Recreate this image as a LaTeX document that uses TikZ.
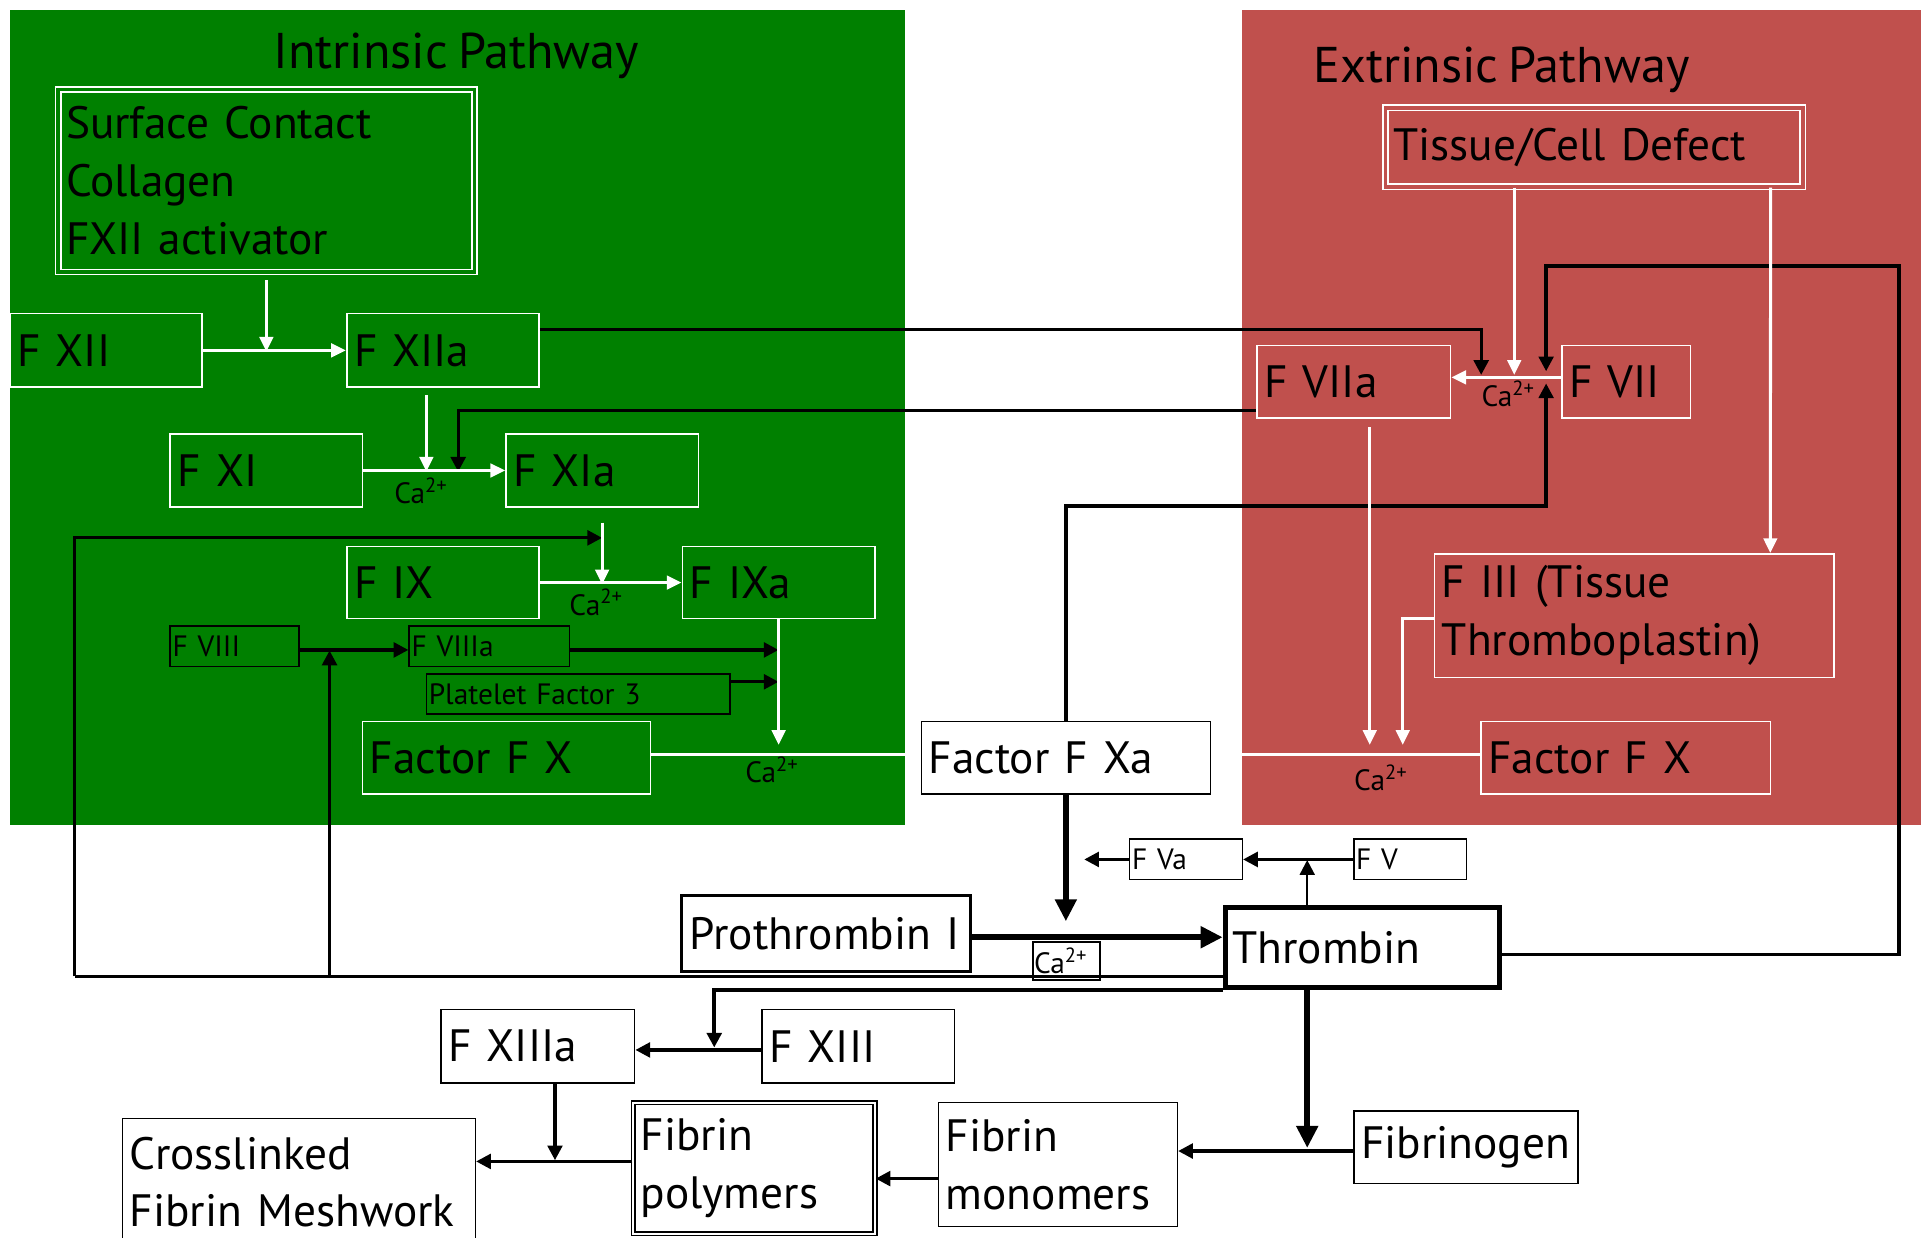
\documentclass[tikz,border=0pt]{standalone}
\usepackage{fontspec}
\setmainfont[WordSpace=0.75]{PT Sans}
\usetikzlibrary{arrows.meta}
\definecolor{intr}{RGB}{0,128,0}
\definecolor{extr}{RGB}{192,80,77}
\newcommand\fmain{\fontsize{37}{47}\selectfont}
\newcommand\fsm{\fontsize{24}{28}\selectfont}
\newcommand\ftitle{\fontsize{41}{50}\selectfont}
\newcommand\fcal{\fontsize{24}{28}\selectfont}
\begin{document}
\begin{tikzpicture}[x=1pt,y=-1pt,
  nbox/.style={line width=1.3pt, inner xsep=6pt, inner ysep=0pt, align=left, font=\fmain, text=black},
  wb/.style={nbox, draw=white},
  kb/.style={nbox, draw=black, fill=white},
  sb/.style={nbox, draw=black, font=\fsm, inner xsep=2pt},
  warr/.style={draw=white, line width=2.5pt, -{Triangle[length=12pt,width=11pt]}},
  wline/.style={draw=white, line width=2.5pt},
  barr/.style={draw=black, line width=2.7pt, -{Triangle[length=12pt,width=12pt]}},
  bline/.style={draw=black, line width=2.7pt},
  tarr/.style={draw=black, line width=5pt, -{Triangle[length=18pt,width=17pt]}},
  calab/.style={font=\fcal, anchor=base, inner sep=0pt},
  ttl/.style={font=\ftitle, anchor=base, inner sep=0pt}
]
\clip (0,0) rectangle (1568,1010);
\fill[white] (0,0) rectangle (1568,1010);
\fill[intr] (8,8) rectangle (739,673);
\fill[extr] (1014,8) rectangle (1568,673);

\node[ttl] (tin) at (372.5,56) {Intrinsic Pathway};
\node[ttl] (tex) at (1225.5,67) {Extrinsic Pathway};

% intrinsic nodes
\node[wb, double=intr, double distance=3pt, minimum width=340pt, text width=327pt, minimum height=149pt] (surf) at (217.4,147.5) {Surface Contact\\Collagen\\FXII activator};
\node[wb, minimum width=157pt, text width=145pt, minimum height=60pt] (fxii) at (86.6,286) {F XII};
\node[wb, minimum width=157pt, text width=145pt, minimum height=60pt] (fxiia) at (361.5,286) {F XIIa};
\node[wb, minimum width=157pt, text width=145pt, minimum height=60pt] (fxi) at (217.5,384) {F XI};
\node[wb, minimum width=157pt, text width=145pt, minimum height=60pt] (fxia) at (491.5,384) {F XIa};
\node[wb, minimum width=157pt, text width=145pt, minimum height=59pt] (fix) at (361.5,475.5) {F IX};
\node[wb, minimum width=157pt, text width=145pt, minimum height=59pt] (fixa) at (635.5,475.5) {F IXa};
\node[sb, minimum width=105pt, text width=101pt, minimum height=33pt] (fviii) at (191.5,527.5) {F VIII};
\node[sb, minimum width=131pt, text width=127pt, minimum height=33pt] (fviiia) at (399.5,527.5) {F VIIIa};
\node[sb, minimum width=248pt, text width=244pt, minimum height=33pt] (pf3) at (472,566.5) {Platelet Factor 3};
\node[wb, minimum width=235pt, text width=223pt, minimum height=59pt] (fxl) at (413.5,618.5) {Factor F X};

% extrinsic nodes
\node[wb, double=extr, double distance=3pt, minimum width=340.5pt, text width=328pt, minimum height=64.5pt] (tissue) at (1301.25,120.25) {Tissue/Cell Defect};
\node[wb, minimum width=158pt, text width=146pt, minimum height=59pt] (fviia) at (1105,311.5) {F VIIa};
\node[wb, minimum width=105pt, text width=93pt, minimum height=59pt] (fvii) at (1327.5,311.5) {F VII};
\node[wb, minimum width=326pt, text width=314pt, minimum height=101pt] (fiii) at (1334,502.5) {F III (Tissue\\Thromboplastin)};
\node[wb, minimum width=236pt, text width=224pt, minimum height=59pt] (fxr) at (1327,618.5) {Factor F X};

% common nodes
\node[kb, minimum width=236pt, text width=224pt, minimum height=59pt] (fxa) at (870,618.5) {Factor F Xa};
\node[sb, fill=white, minimum width=92pt, text width=88pt, minimum height=33pt] (fva) at (968,701.5) {F Va};
\node[sb, fill=white, minimum width=92pt, text width=88pt, minimum height=33pt] (fv) at (1151,701.5) {F V};
\node[kb, line width=2.5pt, minimum width=236pt, text width=222pt, minimum height=62pt, inner xsep=7pt] (prot) at (674,762) {Prothrombin I};
\node[kb, line width=4pt, minimum width=224pt, text width=212pt, minimum height=65pt] (thr) at (1112,773.5) {Thrombin};
\node[kb, line width=2pt, font=\fcal, inner xsep=1pt, minimum width=55pt, text width=53pt, minimum height=31pt] (cabox) at (870.5,784.5) {Ca\textsuperscript{2+}};
\node[kb, minimum width=158pt, text width=146pt, minimum height=60pt] (fxiiia) at (439,854) {F XIIIa};
\node[kb, minimum width=157pt, text width=145pt, minimum height=60pt] (fxiii) at (700.5,854) {F XIII};
\node[kb, double=white, line width=1.5pt, double distance=1.5pt, minimum width=197pt, text width=185pt, minimum height=107pt] (fpoly) at (615.5,953.5) {Fibrin\\polymers};
\node[kb, minimum width=195pt, text width=183pt, minimum height=101pt] (fmono) at (863.5,950.5) {Fibrin\\monomers};
\node[kb, minimum width=183pt, text width=171pt, minimum height=59pt] (fibgen) at (1196.5,936.5) {Fibrinogen};
\node[kb, minimum width=288pt, text width=276pt, minimum height=104pt] (xlink) at (244,965) {Crosslinked\\Fibrin Meshwork};

% Ca labels
\node[calab] (ca1) at (343.5,411) {Ca\textsuperscript{2+}};
\node[calab] (ca2) at (486.5,502) {Ca\textsuperscript{2+}};
\node[calab] (ca3) at (630,639) {Ca\textsuperscript{2+}};
\node[calab] (ca4) at (1231,332) {Ca\textsuperscript{2+}};
\node[calab] (ca5) at (1127,645.5) {Ca\textsuperscript{2+}};

% junction coordinates
\coordinate (j1) at (217.4,287);
\coordinate (j2) at (1209,306);
\coordinate (j3) at (348,385);
\coordinate (j4) at (374,385);
\coordinate (j5) at (491.5,477);
\coordinate (j6) at (635.5,530.5);
\coordinate (j7) at (635.5,556.5);
\coordinate (j8) at (635.5,608);
\coordinate (j9) at (1236,306);
\coordinate (j10) at (1145,608);
\coordinate (j11) at (1118,608);
\coordinate (k1) at (870,413);
\coordinate (j12) at (1262,313);
\coordinate (k2) at (1550,217);
\coordinate (j13) at (1262,303);
\coordinate (j14) at (870,752);
\coordinate (j15) at (885,701.5);
\coordinate (j16) at (1067,702);
\coordinate (k3) at (61,797);
\coordinate (k4) at (61,439);
\coordinate (j17) at (491.5,439);
\coordinate (k5) at (269,797);
\coordinate (j18) at (269,531);
\coordinate (j19) at (583,855);
\coordinate (j20) at (1067,937);
\coordinate (j21) at (453,947);

% black connectors
\draw[barr] ([yshift=17pt]fxiia.east) -| (j2);
\draw[barr] ([yshift=-23.5pt]fviia.west) -| (j4);
\draw[barr] (fxa.north) -- (k1) -| (j12);
\draw[barr] ([yshift=-5.5pt]thr.east) -| (k2) -| (j13);
\draw[barr] ([yshift=-3pt]fviii.east) -- ([yshift=-3pt]fviiia.west);
\draw[barr] ([yshift=-3pt]fviiia.east) -- (j6);
\draw[barr] ([yshift=10pt]pf3.east) -- (j7);
\draw[tarr] (fxa.south) -- (j14);
\coordinate (pe) at ([yshift=-3pt]prot.east);
\draw[tarr] (pe) -- (pe -| thr.west);
\draw[barr] (fva.west) -- (j15);
\draw[barr] (fv) -- (fva);
\draw[barr, line width=2pt] ([xshift=-45pt]thr.north) -- (j16);
\draw[bline] ([yshift=-23.5pt]thr.west) -- (k3);
\draw[barr] (k3) -- (k4) -- (j17);
\draw[barr] (k5) -- (j18);
\draw[barr, line width=3.5pt] (thr.south west) -| (j19);
\draw[tarr] ([xshift=-45pt]thr.south) -- (j20);
\coordinate (fg) at ([yshift=-3pt]fibgen.west);
\draw[barr] (fg) -- (fg -| fmono.east);
\draw[barr] ([yshift=-3pt]fxiii.west) -- ([yshift=-3pt]fxiiia.east);
\coordinate (fm) at ([yshift=-11.5pt]fmono.west);
\draw[barr] (fm) -- (fm -| fpoly.east);
\coordinate (fp) at ([yshift=5.5pt]fpoly.west);
\draw[barr] (fp) -- (fp -| xlink.east);
\draw[barr] ([xshift=14pt]fxiiia.south) -- (j21);

% white connectors
\draw[warr] ([yshift=-6pt]surf.south) -- (j1);
\draw[warr] (fxii) -- (fxiia);
\draw[warr] ([xshift=-13.5pt,yshift=-6pt]fxiia.south) -- (j3);
\draw[warr] (fxi) -- (fxia);
\draw[warr] ([yshift=-12pt]fxia.south) -- (j5);
\draw[warr] (fix) -- (fixa);
\draw[warr] (fixa.south) -- (j8);
\draw[wline] ([yshift=3pt]fxl.east) -- ([yshift=3pt]fxa.west);
\draw[wline] ([yshift=3pt]fxr.west) -- ([yshift=3pt]fxa.east);
\draw[warr] ([xshift=-65.25pt]tissue.south) -- (j9);
\draw[warr] ([yshift=3.5pt]fvii.west) -- ([yshift=3.5pt]fviia.east);
\draw[warr] ([xshift=144pt]tissue.south) -- ([xshift=111pt]fiii.north);
\draw[warr] ([yshift=-2.5pt]fiii.west) -| (j10);
\draw[warr] ([xshift=13pt,yshift=-7pt]fviia.south) -- (j11);
\end{tikzpicture}
\end{document}
